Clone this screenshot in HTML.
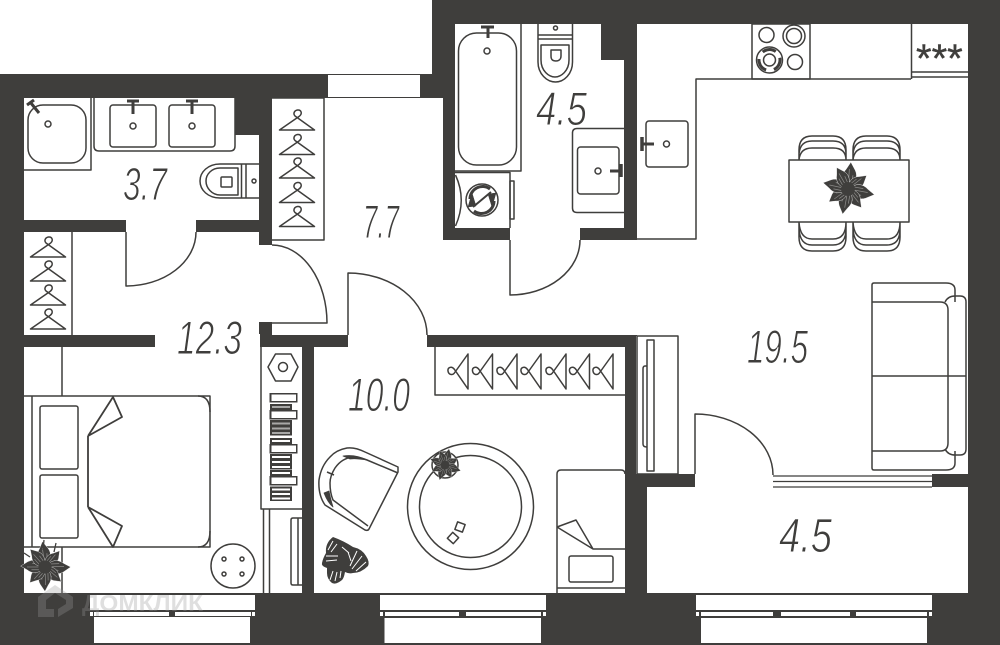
<!DOCTYPE html>
<html><head><meta charset="utf-8">
<style>html,body{margin:0;padding:0;background:#fff}svg{display:block}
text.a{font-family:"Liberation Sans",sans-serif;font-style:italic;fill:#3f3e3c;stroke:#fff;stroke-width:1;paint-order:normal}</style>
</head><body>
<svg xmlns="http://www.w3.org/2000/svg" width="1000" height="645" viewBox="0 0 1000 645">
<defs>
<g id="h" fill="none" stroke="#3f3e3c" stroke-width="1.500" stroke-linejoin="round" stroke-linecap="round">
<path d="M17.500 0H-17.500L2 -13.500C6 -16.500 4 -20.500 0.500 -20C-3 -19.500 -4 -16 -2 -14L17.500 0"/>
</g>
<g id="pet"><path d="M0 0Q11 -10 6 -19L1 -27L-3 -20Q-11 -10 0 0Z"/><path d="M0 -3L0 -20M-3 -5L-3 -15M3 -5L4 -14" fill="none" stroke="#8b8a88" stroke-width=".8"/></g>
<g id="pl" fill="#3f3e3c" stroke="#fff" stroke-width=".4">
<use href="#pet" transform="rotate(-8)"/><use href="#pet" transform="rotate(40) scale(.85)"/><use href="#pet" transform="rotate(88) scale(1)"/><use href="#pet" transform="rotate(130) scale(.85)"/><use href="#pet" transform="rotate(178) scale(.95)"/><use href="#pet" transform="rotate(222) scale(.85)"/><use href="#pet" transform="rotate(270) scale(.95)"/><use href="#pet" transform="rotate(318) scale(.9)"/>
<circle r="7" stroke="none"/>
</g>
</defs>
<rect width="1000" height="645" fill="#3f3e3c"/>
<rect x="0" y="0" width="432" height="74" fill="#fff"/>
<!-- white floor -->
<g fill="#fff">
<rect x="328" y="75" width="92" height="22"/>
<path d="M24 98H235V135H259V220H196V232H126V220H24Z"/>
<rect x="126" y="218" width="70" height="16"/>
<path d="M24 232H259V245H272V98H443V240H510V228H455V24H601V60H624V228H580V240H637V24H968V474H932V487H968V593H647V487H695V474H637V335H427V347H348V335H272V322H259V347H155V335H24Z"/>
<rect x="24" y="347" width="278" height="246"/>
<rect x="155" y="334" width="105" height="14"/>
<rect x="314" y="347" width="311" height="246"/>
<rect x="348" y="334" width="79" height="14"/>
<rect x="90" y="595" width="165" height="15"/><rect x="94" y="617" width="156" height="26"/>
<rect x="380" y="595" width="166" height="15"/><rect x="384.500" y="618" width="156.500" height="25"/>
<rect x="696" y="595" width="236" height="15"/><rect x="701" y="618" width="226" height="25"/>
<rect x="90" y="612" width="3" height="4"/><rect x="94" y="612" width="75" height="4"/><rect x="175" y="612" width="76" height="4"/><rect x="252" y="612" width="3" height="4"/>
<rect x="380" y="612" width="3" height="4"/><rect x="385" y="612" width="74" height="4"/><rect x="466" y="612" width="75" height="4"/><rect x="543" y="612" width="3" height="4"/>
<rect x="696" y="612" width="3" height="4"/><rect x="701" y="612" width="72" height="4"/><rect x="781" y="612" width="69" height="4"/><rect x="856" y="612" width="71" height="4"/><rect x="929" y="612" width="3" height="4"/>
<rect x="636" y="336" width="1" height="138"/>
</g>
<g fill="none" stroke="#3f3e3c" stroke-width="1.500" stroke-linejoin="round">
<!-- doors -->
<path d="M126 232V286A70 54 0 0 0 196 232"/>
<path d="M272 245A55 78 0 0 1 327 323H272"/>
<path d="M348 335V273A79 62 0 0 1 427 335"/>
<path d="M510 240V295A70 55 0 0 0 580 240"/>
<path d="M695 474V414A78 61 0 0 1 773 475"/>
<path d="M773 476H932M773 481.500H932M773 487H932" stroke-width="1.200"/>
<!-- 3.7 bath -->
<path d="M24 170H91V98"/>
<rect x="28" y="105" width="58" height="58" rx="15"/>
<circle cx="48" cy="124" r="3"/>
<path d="M27 105L34 100M30.500 102.500L39 113" stroke-width="3"/>
<path d="M94 98V146Q94 151 99 151H230Q235 151 235 146V98"/>
<rect x="110" y="105" width="46" height="42" rx="3"/><rect x="169" y="105" width="46" height="42" rx="3"/>
<circle cx="133" cy="126" r="3"/><circle cx="192" cy="126" r="3"/>
<path d="M127 101H139M133 101V114M186 101H198M192 101V114" stroke-width="3"/>
<path d="M259 164H220C208 164 200 172 200 181C200 190 208 198 220 198H259"/>
<path d="M238 168H220C212 168 206 174 206 181C206 188 212 195 220 195H238ZM241.500 164V198M246 164V198"/>
<rect x="221" y="177" width="11" height="10" rx="1"/><circle cx="254" cy="181" r="2"/>
<!-- wardrobes -->
<path d="M272 98H324V240H272"/>
<path d="M72 232V335"/>
<path d="M435 347V395H625"/>
<!-- bedroom -->
<path d="M62 347V396M24 396H210V547H24M32 396V547M62 547V593"/>
<path d="M210 412Q210 396 198 396M210 531Q210 547 198 547" />
<rect x="40" y="406" width="38" height="63" rx="2"/><rect x="40" y="475" width="38" height="63" rx="2"/>
<path d="M88 436V507M88 436L113 397L122 417L88 436M88 507L122 526L113 547L88 507" stroke-width="1.800"/>
<circle cx="233" cy="566" r="22"/>
<circle cx="224" cy="559" r="2"/><circle cx="242" cy="559" r="2"/><circle cx="224" cy="574" r="2"/><circle cx="242" cy="574" r="2"/>
<path d="M261 347V509H302"/>
<path d="M268 367L275.500 354H291L298 367L291 381H275.500Z"/><circle cx="283" cy="367" r="4.500"/>
<path d="M263.500 509V593M269.500 509V593"/>
<path d="M302 518H293Q291 518 291 520V583Q291 585 293 585H302M298 518V585"/>
<!-- living wardrobe -->
<rect x="637" y="336" width="41" height="138"/>
<rect x="647" y="340" width="7" height="131"/>
<path d="M647 366H645Q643 366 643 369V444Q643 447 647 447"/>
<!-- sofa -->
<path d="M955 302V290Q955 283 946 283H874Q872 283 872 285V468Q872 470 874 470H946Q955 470 955 463V451"/>
<path d="M872 302H940Q948 302 948 310V443Q948 451 940 451H872M872 376H966"/>
<path d="M945 302Q948 296 955 296H960Q966 296 966 302V449Q966 455 960 455H955Q948 455 945 449"/>
<!-- kitchen -->
<path d="M637 239H696V79H911"/>
<rect x="752" y="24" width="58" height="55"/>
<circle cx="766.500" cy="35" r="7.500"/><circle cx="794" cy="36" r="11"/><circle cx="794" cy="36" r="7.500"/><circle cx="795" cy="62" r="7.500"/>
<circle cx="769.500" cy="60" r="13"/>
<circle cx="769.500" cy="60" r="10.500" stroke-width="3" stroke-dasharray="14 8" transform="rotate(-12 769.500 60)"/>
<circle cx="769.500" cy="60" r="6"/>
<path d="M911.500 24V72H968M911.500 77H968M911.500 72V79"/>
<rect x="646" y="121" width="42" height="46" rx="3"/><circle cx="666.500" cy="144" r="3"/>
<path d="M642 137V151" stroke-width="3.500"/><path d="M642 144H654" stroke-width="3"/>
<rect x="789" y="160" width="120" height="62"/>
<path d="M799 160V150Q799 136 812 136H833Q846 136 846 150V160M799 154Q800 141 812 141H833Q846 141 846 154M799 160Q800 148 812 148H833Q846 148 846 160"/>
<path d="M853 160V150Q853 136 866 136H887Q900 136 900 150V160M853 154Q854 141 866 141H887Q900 141 900 154M853 160Q854 148 866 148H887Q900 148 900 160"/>
<path d="M799 222V237Q799 251 812 251H833Q846 251 846 237V222M799 229Q800 245 812 245H833Q846 245 846 229M799 222Q800 239 812 239H833Q846 239 846 222"/>
<path d="M853 222V237Q853 251 866 251H887Q900 251 900 237V222M853 229Q854 245 866 245H887Q900 245 900 229M853 222Q854 239 866 239H887Q900 239 900 222"/>
<!-- bath 4.5 -->
<path d="M455 171H521V24"/>
<rect x="458.500" y="33" width="58" height="132" rx="18"/>
<circle cx="487" cy="51" r="3"/><path d="M481 27H494M488 27V38" stroke-width="3"/>
<path d="M538 24V35M572.500 24V35M538 35V62C538 74 547 82 555.500 82C564 82 572.500 74 572.500 62V35M538 35H572.500M538 39H572.500" />
<path d="M541 45H569V60C569 71 561 77 555 77C549 77 541 71 541 60Z"/>
<path d="M551 50H561V56C561 60 558 61 556 61C553 61 551 60 551 56Z"/>
<circle cx="555.500" cy="28" r="2"/>
<path d="M455 172.500H510V228"/>
<path d="M455.500 175Q467 200 455.500 226"/>
<circle cx="482" cy="200" r="16"/>
<path d="M470 199A12.500 12.500 0 0 1 490 189M494 201A12.500 12.500 0 0 1 474 211" stroke-width="3"/>
<path d="M472 193L468 207L476 206ZM492 207L496 193L488 194Z" fill="#3f3e3c" stroke-width=".5"/>
<path d="M473 207L491 192" stroke="#3f3e3c" stroke-width="2"/>
<rect x="510" y="181" width="4" height="38"/>
<path d="M624 128.500H577Q572.500 128.500 572.500 133V208Q572.500 212.500 577 212.500H624"/>
<rect x="577.500" y="147" width="41.500" height="47" rx="3"/><circle cx="598" cy="171" r="3"/>
<path d="M621 164V177" stroke-width="3.500"/><path d="M610 171H621" stroke-width="3"/>
<!-- room 10 armchair -->
<path d="M398 467L365 452Q355 447 347 448Q336 450 330 457Q321 466 319 480Q318 495 325 505L365 530Q368 531 369 529L398 472Z"/>
<path d="M398 473L367 460Q360 457 353 457Q342 458 335 468Q330 476 330 483Q330 493 333 500L368 526"/>
<path d="M327 472L334 475" />
<path d="M343 456Q355 454 367 460Q355 458 350 459Z" fill="#3f3e3c" stroke-width=".8"/>
<path d="M324 493Q328 503 333 507Q330 497 329 491Z" fill="#3f3e3c" stroke-width=".8"/>
<circle cx="470.500" cy="506.500" r="63"/><circle cx="470.500" cy="506.500" r="51"/>
<rect x="456" y="523" width="8" height="8" transform="rotate(20 460 527)"/>
<rect x="449" y="534" width="8" height="8" transform="rotate(42 453 538)"/>
<path d="M557 593V474Q557 470 561 470H621Q625 470 625 474"/>
<path d="M557 527L576 520L593 549H625M557 527L593 549M557 588H625"/>
<rect x="569" y="556" width="44" height="26" rx="2"/>
</g>
<!-- hangers -->
<use href="#h" x="297" y="130"/><use href="#h" x="297" y="154.500"/><use href="#h" x="297" y="178"/><use href="#h" x="297" y="202.500"/><use href="#h" x="297" y="226.500"/>
<use href="#h" x="48" y="257"/><use href="#h" x="48" y="281"/><use href="#h" x="48" y="305"/><use href="#h" x="48" y="329"/>
<use href="#h" transform="translate(468 371.500) rotate(-90)"/><use href="#h" transform="translate(492.500 371.500) rotate(-90)"/><use href="#h" transform="translate(517 371.500) rotate(-90)"/><use href="#h" transform="translate(541 371.500) rotate(-90)"/><use href="#h" transform="translate(566 371.500) rotate(-90)"/><use href="#h" transform="translate(589.500 371.500) rotate(-90)"/><use href="#h" transform="translate(613 371.500) rotate(-90)"/>
<!-- clothes -->
<g fill="#3f3e3c">
<rect x="270" y="404" width="22" height="6"/><rect x="270" y="420" width="22" height="15.500"/><rect x="270" y="438" width="22" height="6"/><rect x="270" y="454" width="22" height="15.500"/><rect x="270" y="470" width="22" height="6"/><rect x="270" y="486.500" width="22" height="14.500"/>
<rect x="269.500" y="393" width="28" height="9.500"/><rect x="269.500" y="410" width="28" height="9.500"/><rect x="269.500" y="444" width="28" height="9.500"/><rect x="269.500" y="476" width="28" height="9.500"/>
</g>
<g fill="#fff">
<rect x="271.500" y="394.500" width="24.500" height="6.500"/><rect x="271.500" y="411.500" width="24.500" height="6.500"/><rect x="271.500" y="445.500" width="24.500" height="6.500"/><rect x="271.500" y="477.500" width="24.500" height="6.500"/>
<g opacity=".55"><rect x="272" y="406" width="18" height="2"/><rect x="272" y="422.500" width="18" height="2"/><rect x="272" y="427.500" width="18" height="2"/><rect x="272" y="432" width="18" height="2"/></g>
<rect x="272" y="440" width="18" height="2"/><rect x="272" y="456" width="18" height="2"/><rect x="272" y="461" width="18" height="2"/><rect x="272" y="466" width="18" height="2"/><rect x="272" y="472" width="18" height="2"/><rect x="272" y="488.500" width="18" height="2"/><rect x="272" y="493" width="18" height="2"/><rect x="272" y="497.500" width="18" height="2"/>
</g>
<!-- plants -->
<use href="#pl" transform="translate(45 567) scale(.95)"/>
<path d="M43 550L44 540M54 552L56 543M30 557L24 553" stroke="#3f3e3c" stroke-width="1.300"/>
<use href="#pl" transform="translate(848 189) rotate(12)"/>
<circle cx="445" cy="465" r="13" fill="#fff" stroke="#3f3e3c" stroke-width="1.500"/>
<use href="#pl" transform="translate(445 465) scale(.62) rotate(20)"/>
<g fill="#3f3e3c">
<path d="M333 537Q344 541 353 547Q362 549 366 556Q370 562 368 566Q361 573 353 573Q349 574 345 572Q344 578 342 580Q336 585 332 583Q327 579 327 573L327 568Q321 566 322 563Q323 558 326 553Q325 543 333 537Z"/>
</g>
<g fill="none" stroke="#fff" stroke-width="1">
<path d="M333 541L328 550M337 544L331 552M342 547L349 553M348 552L351 561M357 551L350 566M362 556L352 569M366 562L356 571M333 571L330 580M337 572L335 581M341 571L340 578M326 561L337 560M326 556L338 556"/>
</g>
<!-- labels -->
<text class="a" x="123" y="200" font-size="46" textLength="44" lengthAdjust="spacingAndGlyphs">3.7</text>
<text class="a" x="363" y="238" font-size="47" textLength="36" lengthAdjust="spacingAndGlyphs">7.7</text>
<text class="a" x="536" y="125" font-size="47" textLength="51" lengthAdjust="spacingAndGlyphs">4.5</text>
<text class="a" x="177" y="354" font-size="47" textLength="65" lengthAdjust="spacingAndGlyphs">12.3</text>
<text class="a" x="348" y="411" font-size="47" textLength="62" lengthAdjust="spacingAndGlyphs">10.0</text>
<text class="a" x="747" y="363" font-size="47" textLength="61" lengthAdjust="spacingAndGlyphs">19.5</text>
<text class="a" x="779" y="552" font-size="48" textLength="53" lengthAdjust="spacingAndGlyphs">4.5</text>
<text x="916" y="72" font-family="Liberation Sans, sans-serif" font-size="40" fill="#3f3e3c" stroke="#3f3e3c" stroke-width=".4">***</text>
<!-- watermark -->
<g opacity=".3" fill="#999">
<path d="M38 597L55 585L73 597V608L58 617V609L66 604V600L55 593L46 600V609H54V617H38Z"/>
<text x="82" y="611" font-family="Liberation Sans, sans-serif" font-weight="bold" font-size="23" textLength="121" lengthAdjust="spacingAndGlyphs">ДОМКЛИК</text>
</g>
</svg>
</body></html>
